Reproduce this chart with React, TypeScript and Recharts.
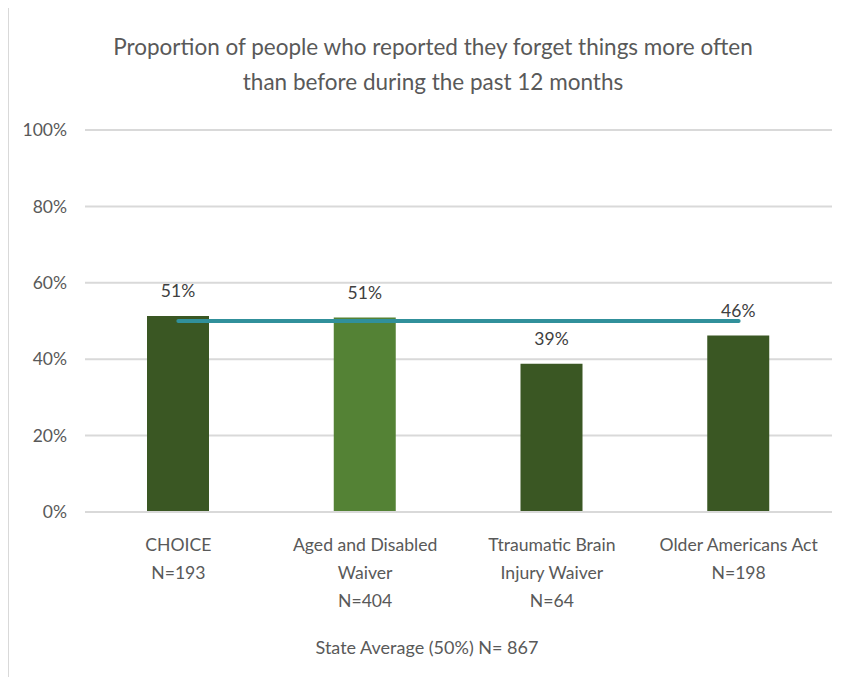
import { ComposedChart, Bar, Line, Cell, XAxis, YAxis, CartesianGrid, LabelList } from "recharts";

const categories = [
  "CHOICE\nN=193",
  "Aged and Disabled\nWaiver\nN=404",
  "Ttraumatic Brain\nInjury Waiver\nN=64",
  "Older Americans Act\nN=198",
];
const proportion = [51.3, 50.9, 38.8, 46.2];
const stateAverage = [50, 50, 50, 50];
const barColors = ["#3A5723", "#548235", "#3A5723", "#3A5723"];
const yTicks = [0, 20, 40, 60, 80, 100];

const data = categories.map((name, i) => ({
  name,
  value: proportion[i],
  avg: stateAverage[i],
}));

const FONT = "Lato, 'Open Sans', sans-serif";
const GREY = "#595959";

function CategoryTick({ x, y, payload }: any) {
  const lines = String(payload.value).split("\n");
  return (
    <g transform={`translate(${x},${y})`}>
      <text textAnchor="middle" fill={GREY} fontSize={17.6} fontFamily={FONT}>
        {lines.map((line, i) => (
          <tspan key={i} x={0} dy={i === 0 ? 31 : 28}>
            {line}
          </tspan>
        ))}
      </text>
    </g>
  );
}

export default function App() {
  return (
    <div
      style={{
        position: "relative",
        margin: "-3px 0 0 -1px",
        width: 828,
        height: 670,
        borderTop: "2px solid #d9d9d9",
        borderLeft: "2px solid #d9d9d9",
        background: "#fff",
        fontFamily: FONT,
      }}
    >
      <div
        style={{
          position: "absolute",
          left: 24,
          width: 800,
          top: 22,
          textAlign: "center",
          fontSize: 22.5,
          lineHeight: "35px",
          color: GREY,
        }}
      >
        Proportion of people who reported they forget things more often
        <br />
        than before during the past 12 months
      </div>

      <ComposedChart
        width={828}
        height={670}
        data={data}
        margin={{ top: 123, right: 5, bottom: 55, left: 16 }}
        barCategoryGap="33%"
      >
        <CartesianGrid vertical={false} stroke="#d9d9d9" strokeWidth={2} />
        <XAxis
          dataKey="name"
          axisLine={{ stroke: "#d9d9d9", strokeWidth: 2 }}
          tickLine={false}
          tick={<CategoryTick />}
          interval={0}
          height={110}
        />
        <YAxis
          domain={[0, 100]}
          ticks={yTicks}
          tickFormatter={(v) => `${v}%`}
          axisLine={false}
          tickLine={false}
          tickMargin={12}
          width={60}
          tick={{ fill: GREY, fontSize: 17.5, fontFamily: FONT }}
        />
        <Bar dataKey="value" barSize={62} isAnimationActive={false}>
          {data.map((d, i) => (
            <Cell key={`cell-${i}`} fill={barColors[i]} />
          ))}
          <LabelList
            dataKey="value"
            position="top"
            offset={19}
            formatter={(v: any) => `${Math.round(v)}%`}
            fill="#404040"
            fontSize={17.5}
            fontFamily={FONT}
          />
        </Bar>
        <Line
          dataKey="avg"
          stroke="#31909B"
          strokeWidth={4}
          strokeLinecap="round"
          dot={false}
          activeDot={false}
          isAnimationActive={false}
        />
      </ComposedChart>

      <div
        style={{
          position: "absolute",
          left: 18,
          width: 800,
          top: 629,
          textAlign: "center",
          fontSize: 18,
          color: GREY,
        }}
      >
        State Average (50%) N= 867
      </div>
    </div>
  );
}
